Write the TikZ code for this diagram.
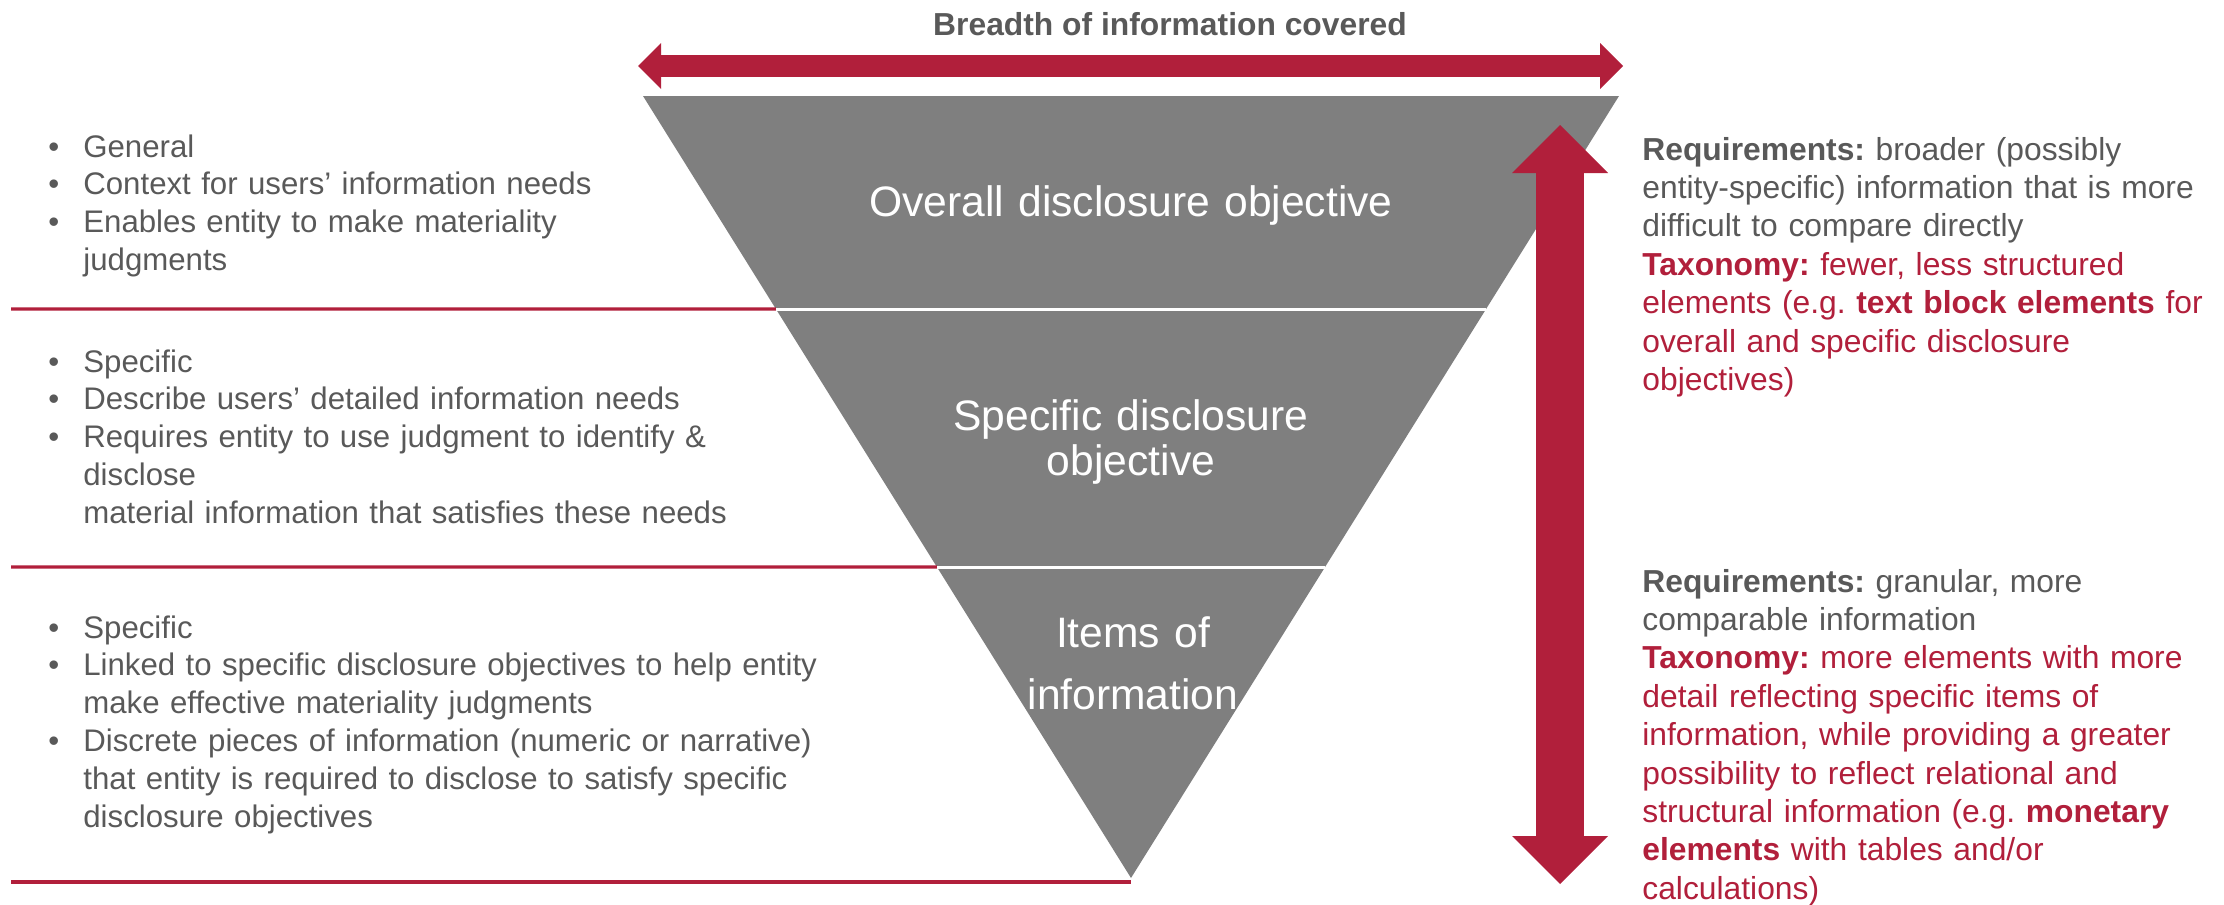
\documentclass[tikz,border=0pt]{standalone}
\usepackage{fontspec}
\setmainfont{Liberation Sans}
\usepackage{tikz}
\usetikzlibrary{calc, arrows.meta}
\definecolor{crimson}{RGB}{177, 31, 59}
\definecolor{funnel}{RGB}{127, 127, 127}
\definecolor{ink}{RGB}{89, 89, 89}

\newcommand{\itm}{\makebox[17.5pt][l]{\textbullet}}
\newcommand{\cnt}{\hspace*{17.5pt}}
\frenchspacing

\begin{document}
\begin{tikzpicture}[x=0.5pt, y=-0.5pt,
    body/.style={anchor=base west, inner sep=0pt, align=left, text=ink,
                 font=\fontsize{15.6pt}{18.9pt}\selectfont},
    note/.style={body, text width=300pt, font=\fontsize{15.9pt}{19.2pt}\selectfont},
    level/.style={anchor=base, inner sep=0pt, align=center, text=white,
                  text width=300pt, font=\fontsize{21.3pt}{22.5pt}\selectfont},
    rule/.style={crimson, line width=1.7pt},
    split/.style={white, line width=1.5pt}]
  \useasboundingbox (0, 0) rectangle (2224, 905);

  % the funnel
  \coordinate (tl) at (643, 96);
  \coordinate (tr) at (1619, 96);
  \coordinate (tip) at (1131, 878);
  \coordinate (al) at ($(tl)!0.2724!(tip)$);
  \coordinate (ar) at ($(tr)!0.2724!(tip)$);
  \coordinate (bl) at ($(tl)!0.6023!(tip)$);
  \coordinate (br) at ($(tr)!0.6023!(tip)$);
  \fill[funnel] (tl) -- (tr) -- (tip) -- cycle;
  \draw[split] (al) -- (ar);
  \draw[split] (bl) -- (br);

  % rules on the left
  \coordinate (r1) at (11, 309);
  \coordinate (r2) at (11, 567);
  \coordinate (r3) at (11, 882);
  \coordinate (foot) at (1131, 882);
  \draw[rule] (r1) -- (al);
  \draw[rule] (r2) -- (bl);
  \draw[rule] (r3) -- (foot);

  % arrows
  \coordinate (wl) at (638, 66);
  \coordinate (wr) at (1623, 66);
  \draw[crimson, line width=11pt,
        {Triangle[width=23pt, length=11.5pt, line width=0pt]}-{Triangle[width=23pt, length=11.5pt, line width=0pt]}]
    (wl) -- (wr);
  \coordinate (vt) at (1560, 125);
  \coordinate (vb) at (1560, 884);
  \draw[crimson, line width=24pt,
        {Triangle[width=48pt, length=24pt, line width=0pt]}-{Triangle[width=48pt, length=24pt, line width=0pt]}]
    (vt) -- (vb);

  \node[anchor=base, inner sep=0pt, text=ink,
        font=\bfseries\fontsize{15.9pt}{18pt}\selectfont] (breadth) at (1170, 35)
    {Breadth of information covered};

  % levels
  \node[level] (overall) at (1131, 216) {Overall disclosure objective};
  \node[level] (specific) at (1131, 430) {Specific disclosure\\objective};
  \node[level, font=\fontsize{21.3pt}{31pt}\selectfont] (items) at (1133, 647)
    {Items of\\information};

  % left side
  \node[body, text width=400pt] (general) at (48, 157)
    {\itm General\\
     \itm Context for users’ information needs\\
     \itm Enables entity to make materiality\\
     \cnt judgments};
  \node[body, text width=400pt] (detailed) at (48, 372)
    {\itm Specific\\
     \itm Describe users’ detailed information needs\\
     \itm Requires entity to use judgment to identify \&\\
     \cnt disclose\\
     \cnt material information that satisfies these needs};
  \node[body, text width=400pt] (linked) at (48, 638)
    {\itm Specific\\
     \itm Linked to specific disclosure objectives to help entity\\
     \cnt make effective materiality judgments\\
     \itm Discrete pieces of information (numeric or narrative)\\
     \cnt that entity is required to disclose to satisfy specific\\
     \cnt disclosure objectives};

  % right side
  \node[note] (broader) at (1642, 160)
    {\textbf{Requirements:} broader (possibly\\
     entity-specific) information that is more\\
     difficult to compare directly\\
     \color{crimson}\textbf{Taxonomy:} fewer, less structured\\
     elements (e.g. \textbf{text block elements} for\\
     overall and specific disclosure\\
     objectives)};
  \node[note] (granular) at (1642, 592)
    {\textbf{Requirements:} granular, more\\
     comparable information\\
     \color{crimson}\textbf{Taxonomy:} more elements with more\\
     detail reflecting specific items of\\
     information, while providing a greater\\
     possibility to reflect relational and\\
     structural information (e.g. \textbf{monetary}\\
     \textbf{elements} with tables and/or\\
     calculations)};
\end{tikzpicture}
\end{document}
